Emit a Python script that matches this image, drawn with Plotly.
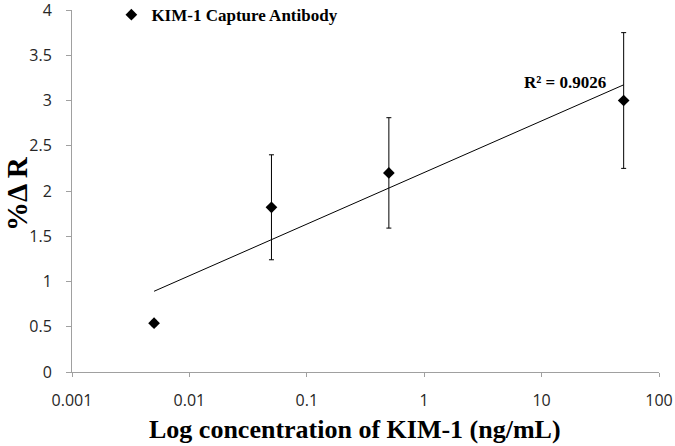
import numpy as np
import plotly.graph_objects as go

conc = [0.005, 0.05, 0.5, 50]
delta_r = [0.54, 1.82, 2.20, 3.00]
err = [0.03, 0.58, 0.61, 0.75]
x_ticks = [0.001, 0.01, 0.1, 1, 10, 100]
x_tick_labels = ["0.001", "0.01", "0.1", "1", "10", "100"]
y_ticks = [0, 0.5, 1, 1.5, 2, 2.5, 3, 3.5, 4]
y_tick_labels = ["0", "0.5", "1", "1.5", "2", "2.5", "3", "3.5", "4"]

lx = np.log10(conc)
slope, intercept = np.polyfit(lx, delta_r, 1)
fit_x = [min(conc), max(conc)]
fit_y = [slope * np.log10(v) + intercept for v in fit_x]

fig = go.Figure()
fig.add_trace(go.Scatter(
    x=fit_x, y=fit_y, mode="lines",
    line=dict(color="black", width=1), showlegend=False, hoverinfo="skip"))
fig.add_trace(go.Scatter(
    x=conc, y=delta_r, mode="markers", name="KIM-1 Capture Antibody",
    marker=dict(symbol="diamond", size=9, color="black"),
    error_y=dict(type="data", array=err, color="black", thickness=1, width=2.5)))

serif_b = dict(family="Liberation Serif", color="black", weight="bold")

fig.add_annotation(x=np.log10(50), y=3.2, xref="x", yref="y",
                   text="R² = 0.9026", showarrow=False, xanchor="right", yanchor="middle",
                   xshift=-16, font=dict(size=17, **serif_b))
fig.add_annotation(x=0.482, y=-0.160, xref="paper", yref="paper",
                   text="Log concentration of KIM-1 (ng/mL)", showarrow=False,
                   xanchor="center", yanchor="middle", font=dict(size=26, **serif_b))
fig.add_annotation(x=-0.0937, y=0.4945, xref="paper", yref="paper",
                   text="%Δ R", showarrow=False, textangle=-90,
                   xanchor="center", yanchor="middle", font=dict(size=29, **serif_b))

fig.update_layout(
    width=675, height=446,
    margin=dict(l=72, r=16, t=10, b=74, autoexpand=False),
    plot_bgcolor="white", paper_bgcolor="white",
    showlegend=True,
    legend=dict(x=0.165, y=0.966, xref="container", yref="container",
                xanchor="left", yanchor="middle",
                font=dict(size=17, **serif_b),
                bgcolor="rgba(0,0,0,0)", itemwidth=30),
    xaxis=dict(type="log", range=[-3, 2], tickvals=x_ticks, ticktext=x_tick_labels,
               showgrid=False, showline=True, linecolor="#a0a0a0", linewidth=1,
               ticks="outside", ticklen=4, tickcolor="#a0a0a0", zeroline=False,
               automargin=False, ticklabelstandoff=10, ticklabeloverflow="allow",
               tickfont=dict(family="Open Sans", size=16, color="#262626")),
    yaxis=dict(range=[0, 4], tickvals=y_ticks, ticktext=y_tick_labels,
               showgrid=False, showline=True, linecolor="#a0a0a0", linewidth=1,
               ticks="outside", ticklen=5, tickcolor="#a0a0a0", zeroline=False,
               automargin=False, ticklabelstandoff=11, ticklabeloverflow="allow",
               tickfont=dict(family="Open Sans", size=16, color="#262626")),
)

fig.write_html("out.html", config={"displayModeBar": False},
               post_script="document.body.style.margin='0';")
